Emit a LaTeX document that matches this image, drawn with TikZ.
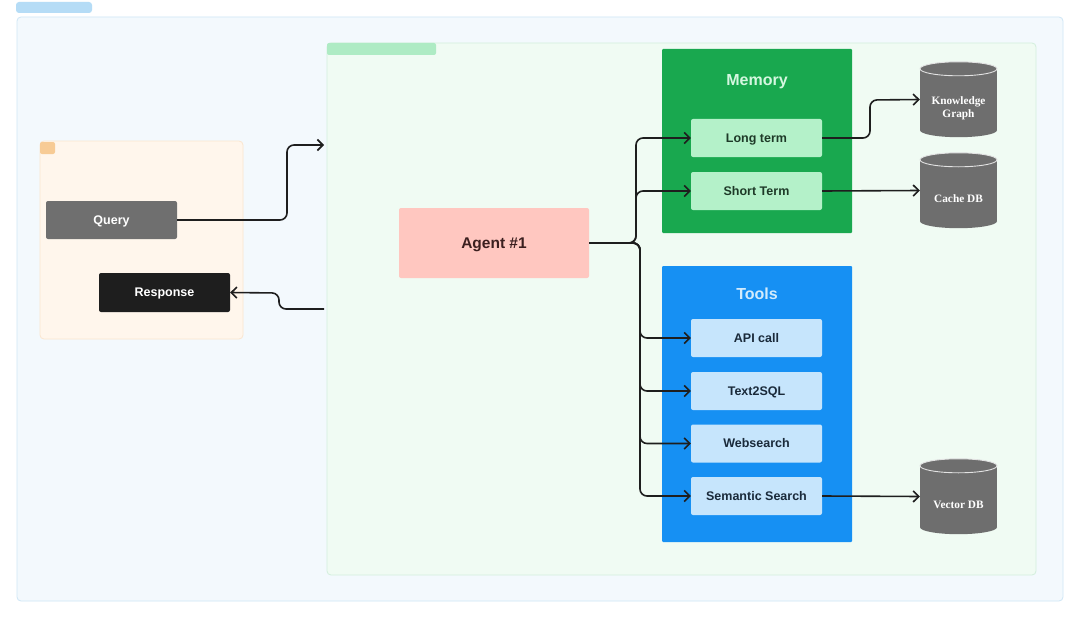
\documentclass[tikz,border=0pt]{standalone}
\usepackage{fontspec}
\setmainfont{Liberation Sans}
\newfontfamily\cylfont{Liberation Serif}
\usetikzlibrary{arrows.meta}
\definecolor{outerfill}{HTML}{F3F9FD}
\definecolor{outerdraw}{HTML}{CFE6F6}
\definecolor{outertab}{HTML}{B5DCF6}
\definecolor{greenfill}{HTML}{F0FBF3}
\definecolor{greendraw}{HTML}{D3EFDD}
\definecolor{greentab}{HTML}{AEEBC4}
\definecolor{orfill}{HTML}{FFF6EC}
\definecolor{ordraw}{HTML}{FBE6CF}
\definecolor{ortab}{HTML}{F7CB95}
\definecolor{querycol}{HTML}{6F6F6F}
\definecolor{respcol}{HTML}{1E1E1E}
\definecolor{agentcol}{HTML}{FFC7C0}
\definecolor{agenttext}{HTML}{3B1F1F}
\definecolor{memcol}{HTML}{19A84F}
\definecolor{memtitle}{HTML}{D5F7E0}
\definecolor{memitem}{HTML}{B4F1C9}
\definecolor{memtext}{HTML}{1E3A28}
\definecolor{toolcol}{HTML}{1690F3}
\definecolor{tooltitle}{HTML}{D2EBFC}
\definecolor{toolitem}{HTML}{C6E5FC}
\definecolor{tooltext}{HTML}{1A2A3A}
\definecolor{cylcol}{HTML}{6E6E6E}
\definecolor{cylrim}{HTML}{E2E2E2}
\definecolor{linecol}{HTML}{1E1E1E}
\tikzset{
  box/.style={rectangle, rounded corners=2pt, inner sep=0pt, text height=8.7pt, text depth=0pt,
     font=\bfseries\fontsize{12.5}{14}\selectfont},
  memitembox/.style={box, fill=memitem, text=memtext, minimum width=131, minimum height=38},
  toolitembox/.style={box, fill=toolitem, text=tooltext, minimum width=131, minimum height=38},
  titletext/.style={inner sep=0pt, text height=11.5pt, text depth=0pt, font=\bfseries\fontsize{16}{18}\selectfont},
  dbnode/.style={rectangle, minimum width=77, minimum height=75, inner sep=0pt},
  dblabel/.style={text=white, inner sep=0pt, font=\cylfont\bfseries\fontsize{11.3}{14}\selectfont, align=center},
  conn/.style={draw=linecol, line width=1.6pt, rounded corners=7pt,
     -{Straight Barb[length=5.5pt,width=11pt,line width=1.6pt]}},
}
\newcommand{\dbcylinder}[1]{%
  \fill[cylcol] ([yshift=7pt]#1.south) ellipse[x radius=38.5, y radius=7];
  \fill[cylcol] ([yshift=-7pt]#1.north west) rectangle ([yshift=7pt]#1.south east);
  \filldraw[fill=cylcol, draw=cylrim, line width=0.9pt] ([yshift=-7pt]#1.north) ellipse[x radius=38.5, y radius=7];
}
\begin{document}
\begin{tikzpicture}[x=1pt,y=-1pt]
\useasboundingbox (0,0) rectangle (1080,618);
\fill[white] (0,0) rectangle (1080,618);
% outer frame
\node[rectangle, rounded corners=3pt, fill=outertab, minimum width=76, minimum height=11, inner sep=0pt] (outertab) at (54,7.5) {};
\node[rectangle, rounded corners=4pt, draw=outerdraw, fill=outerfill, line width=0.8pt, minimum width=1046, minimum height=584, inner sep=0pt] (outer) at (540,309) {};
% green container
\node[rectangle, rounded corners=4pt, draw=greendraw, fill=greenfill, line width=0.8pt, minimum width=709, minimum height=532, inner sep=0pt] (agentarea) at (681.5,309) {};
\node[rectangle, rounded corners=2pt, fill=greentab, minimum width=109, minimum height=12, inner sep=0pt] (greentab) at (381.5,49) {};
% orange container
\node[rectangle, rounded corners=4pt, draw=ordraw, fill=orfill, line width=0.8pt, minimum width=203, minimum height=198, inner sep=0pt] (userarea) at (141.5,240) {};
\node[rectangle, rounded corners=2pt, fill=ortab, minimum width=15, minimum height=12, inner sep=0pt] (ortab) at (47.5,148) {};
% query / response
\node[box, fill=querycol, text=white, minimum width=131, minimum height=38] (query) at (111.5,220) {Query};
\node[box, fill=respcol, text=white, minimum width=131, minimum height=39] (resp) at (164.5,292.5) {Response};
% agent
\node[box, fill=agentcol, text=agenttext, minimum width=190, minimum height=70, text height=11.2pt,
   font=\bfseries\fontsize{15.5}{18}\selectfont] (agent) at (494,243) {Agent \#1};
% memory
\node[rectangle, rounded corners=1pt, fill=memcol, minimum width=190, minimum height=184, inner sep=0pt] (memory) at (757,141) {};
\node[titletext, text=memtitle] (memtitle) at (757,80) {Memory};
\node[memitembox] (lt) at (756.5,138) {Long term};
\node[memitembox] (st) at (756.5,191) {Short Term};
% tools
\node[rectangle, rounded corners=1pt, fill=toolcol, minimum width=190, minimum height=276, inner sep=0pt] (tools) at (757,404) {};
\node[titletext, text=tooltitle] (tooltitle) at (757,294) {Tools};
\node[toolitembox] (api) at (756.5,338) {API call};
\node[toolitembox] (t2s) at (756.5,391) {Text2SQL};
\node[toolitembox] (web) at (756.5,443.5) {Websearch};
\node[toolitembox] (sem) at (756.5,496) {Semantic Search};
% databases
\node[dbnode] (kg) at (958.5,99.5) {};
\node[dbnode] (cache) at (958.5,190.5) {};
\node[dbnode] (vec) at (958.5,496.5) {};
\dbcylinder{kg}
\dbcylinder{cache}
\dbcylinder{vec}
\node[dblabel] (kgl) at (958.5,108) {Knowledge\\[-1pt]Graph};
\node[dblabel] (cachel) at (958.5,199) {Cache DB};
\node[dblabel] (vecl) at (958.5,504.5) {Vector DB};
% free ends at the agent area edge
\coordinate (inq) at (324,145);
\coordinate (outr) at (324,309);
% connectors
\draw[conn] (query.east) -- (287,220) -- (287,145) -- (inq);
\draw[conn] (outr) -- (279,309) -- (279,293) -- (resp.east);
\draw[conn] (agent.east) -- (636,243) -- (636,138) -- (lt.west);
\draw[conn] (agent.east) -- (636,243) -- (636,191) -- (st.west);
\draw[conn] (agent.east) -- (640,243) -- (640,338) -- (api.west);
\draw[conn] (agent.east) -- (640,243) -- (640,391) -- (t2s.west);
\draw[conn] (agent.east) -- (640,243) -- (640,443.5) -- (web.west);
\draw[conn] (agent.east) -- (640,243) -- (640,496) -- (sem.west);
\draw[conn] (lt.east) -- (870,138) -- (870,100) -- (kg.west);
\draw[conn] (st.east) -- (cache.west);
\draw[conn] (sem.east) -- (vec.west);
\end{tikzpicture}
\end{document}
